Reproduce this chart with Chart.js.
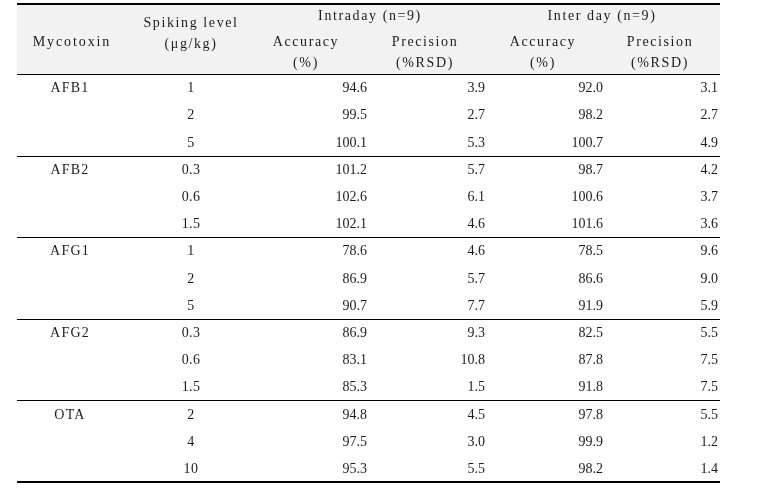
<!DOCTYPE html>
<html lang="en">
<head>
<meta charset="UTF-8">
<title>Mycotoxin accuracy and precision</title>
<script src="https://cdn.jsdelivr.net/npm/chart.js"></script>
<style>
    body { margin: 0; background: #fff; }
    canvas { display: block; }
</style>
</head>
<body>

<canvas id="myTableChart" width="762" height="498"></canvas>

<script>
// table data
var mycotoxins = ['AFB1', 'AFB2', 'AFG1', 'AFG2', 'OTA'];
var spikingLevels = ['1', '2', '5', '0.3', '0.6', '1.5', '1', '2', '5', '0.3', '0.6', '1.5', '2', '4', '10'];
var intraAccuracy = [94.6, 99.5, 100.1, 101.2, 102.6, 102.1, 78.6, 86.9, 90.7, 86.9, 83.1, 85.3, 94.8, 97.5, 95.3];
var intraPrecision = [3.9, 2.7, 5.3, 5.7, 6.1, 4.6, 4.6, 5.7, 7.7, 9.3, 10.8, 1.5, 4.5, 3.0, 5.5];
var interAccuracy = [92.0, 98.2, 100.7, 98.7, 100.6, 101.6, 78.5, 86.6, 91.9, 82.5, 87.8, 91.8, 97.8, 99.9, 98.2];
var interPrecision = [3.1, 2.7, 4.9, 4.2, 3.7, 3.6, 9.6, 9.0, 5.9, 5.5, 7.5, 7.5, 5.5, 1.2, 1.4];

// header text
var groupHeaders = ['Intraday (n=9)', 'Inter day (n=9)'];
var columnHeaders = [
    ['Mycotoxin'],
    ['Spiking level', '(\u03bcg/kg)'],
    ['Accuracy', '(%)'],
    ['Precision', '(%RSD)'],
    ['Accuracy', '(%)'],
    ['Precision', '(%RSD)']
];

// layout (x in page px, y in row units)
var tableLeft = 17, tableRight = 720;
var headerTop = -2.57;
var rowsPerGroup = 3;
var cols = [
    { x: 70,  align: 'center', head: 72 },
    { x: 191, align: 'center', head: 191 },
    { x: 367, align: 'right',  head: 306 },
    { x: 485, align: 'right',  head: 425 },
    { x: 603, align: 'right',  head: 543 },
    { x: 718, align: 'right',  head: 660 }
];
var groupHeadX = [370, 602];

var textColor = '#1c1c1c';
var serif = '"Liberation Serif", "DejaVu Serif", serif';

function fmt(v) { return v.toFixed(1); }

var cellLabels = [
    mycotoxins,
    spikingLevels,
    intraAccuracy.map(fmt),
    intraPrecision.map(fmt),
    interAccuracy.map(fmt),
    interPrecision.map(fmt)
];

var datasets = cellLabels.map(function (labels, k) {
    var data = labels.map(function (l, i) {
        // mycotoxin names sit on the first row of their group
        var row = k === 0 ? i * rowsPerGroup : i;
        return { x: cols[k].x, y: row + 0.5 };
    });
    return { data: data, pointRadius: 0, pointHoverRadius: 0 };
});

var tablePlugin = {
    id: 'tablePlugin',
    beforeDraw: function (chart) {
        var ctx = chart.ctx;
        var ys = chart.scales.y;
        var top = ys.getPixelForValue(headerTop);
        var headBottom = ys.getPixelForValue(0);
        var bottom = ys.getPixelForValue(spikingLevels.length);
        ctx.save();
        ctx.fillStyle = '#f2f2f2';
        ctx.fillRect(tableLeft, top, tableRight - tableLeft, headBottom - top);
        ctx.strokeStyle = '#000';
        ctx.lineWidth = 2;
        ctx.beginPath();
        ctx.moveTo(tableLeft, top); ctx.lineTo(tableRight, top);
        ctx.moveTo(tableLeft, bottom); ctx.lineTo(tableRight, bottom);
        ctx.stroke();
        ctx.lineWidth = 1.2;
        ctx.beginPath();
        for (var g = 0; g < mycotoxins.length; g++) {
            var y = Math.round(ys.getPixelForValue(g * rowsPerGroup)) + 0.5;
            ctx.moveTo(tableLeft, y); ctx.lineTo(tableRight, y);
        }
        ctx.stroke();
        ctx.restore();
    },
    afterDatasetsDraw: function (chart) {
        var ctx = chart.ctx;
        var ys = chart.scales.y;
        ctx.save();
        ctx.fillStyle = textColor;
        ctx.textBaseline = 'middle';

        // header
        ctx.font = '14px ' + serif;
        ctx.letterSpacing = '1.6px';
        ctx.textAlign = 'center';
        groupHeaders.forEach(function (t, i) {
            ctx.fillText(t, groupHeadX[i], ys.getPixelForValue(-2.13));
        });
        ctx.letterSpacing = '1.9px';
        ctx.fillText(columnHeaders[0][0], cols[0].head, ys.getPixelForValue(-1.17));
        ctx.letterSpacing = '1.6px';
        ctx.fillText(columnHeaders[1][0], cols[1].head, ys.getPixelForValue(-1.86));
        ctx.fillText(columnHeaders[1][1], cols[1].head, ys.getPixelForValue(-1.07));
        for (var k = 2; k < columnHeaders.length; k++) {
            ctx.fillText(columnHeaders[k][0], cols[k].head, ys.getPixelForValue(-1.17));
            ctx.fillText(columnHeaders[k][1], cols[k].head, ys.getPixelForValue(-0.40));
        }

        // cells
        chart.data.datasets.forEach(function (ds, k) {
            var meta = chart.getDatasetMeta(k);
            ctx.textAlign = cols[k].align;
            ctx.font = '14px ' + serif;
            ctx.letterSpacing = k === 0 ? '1.2px' : (k === 1 ? '0.4px' : '0px');
            meta.data.forEach(function (pt, i) {
                ctx.fillText(cellLabels[k][i], pt.x, pt.y + 1);
            });
        });
        ctx.restore();
    }
};

var ctxTable = document.getElementById('myTableChart').getContext('2d');
var myTableChart = new Chart(ctxTable, {
    type: 'scatter',
    data: { datasets: datasets },
    options: {
        responsive: false,
        animation: false,
        layout: { padding: { top: 4, bottom: 16, left: 0, right: 0 } },
        plugins: { legend: { display: false }, tooltip: { enabled: false } },
        scales: {
            x: { type: 'linear', display: false, min: 0, max: 762 },
            y: { type: 'linear', display: false, reverse: true, min: headerTop, max: spikingLevels.length }
        }
    },
    plugins: [tablePlugin]
});
</script>

</body>
</html>
